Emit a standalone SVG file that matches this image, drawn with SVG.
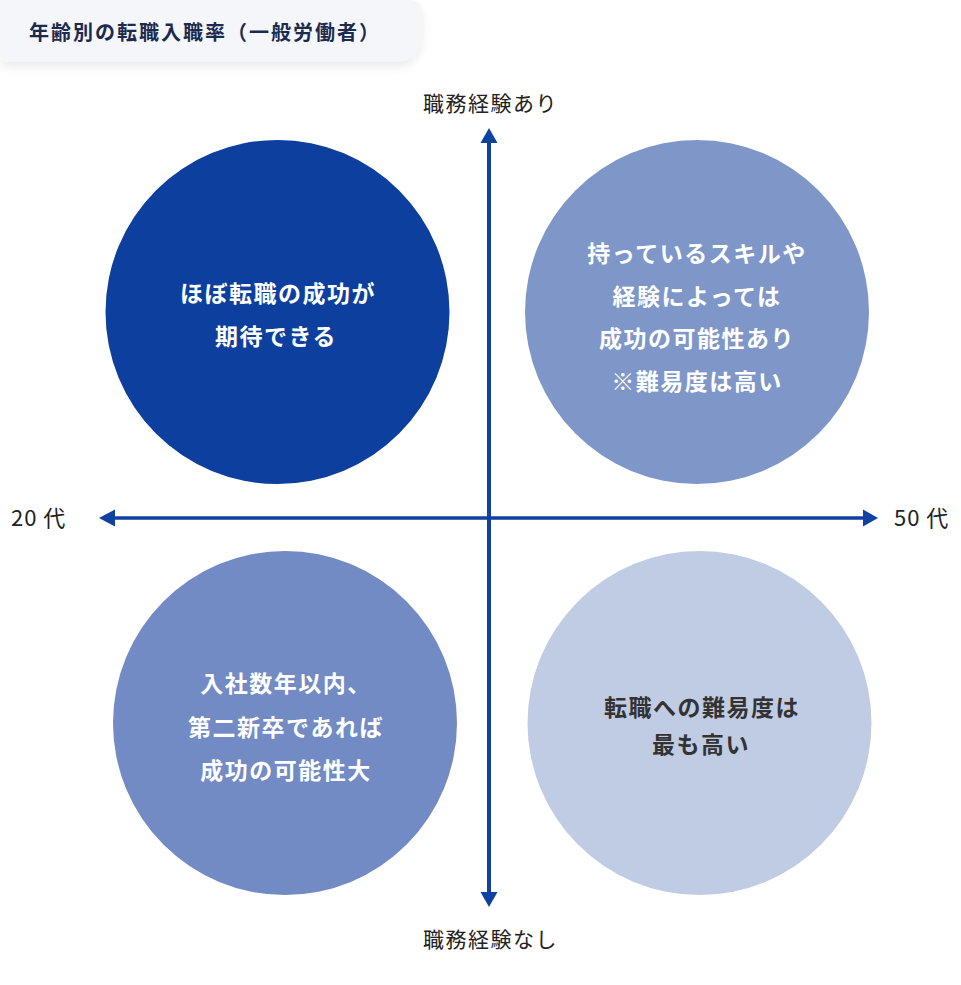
<svg xmlns="http://www.w3.org/2000/svg" width="961" height="985" viewBox="0 0 961 985">
<defs>
<filter id="sh" x="-10%" y="-30%" width="130%" height="180%">
<feDropShadow dx="0" dy="5" stdDeviation="5" flood-color="#000" flood-opacity="0.08"/>
</filter>
<style>
.jp{font-family:"Noto Sans CJK JP","Noto Sans",sans-serif;}
.ct{font-size:23px;font-weight:700;text-anchor:middle;letter-spacing:1.5px;}
.w{fill:#ffffff;}
.d{fill:#333333;}
.ax{font-size:21px;fill:#222222;letter-spacing:1.5px;}
.axl{stroke:#0f41a0;stroke-width:4;fill:none;}
.ah{fill:#0f41a0;}
</style>
</defs>
<rect width="961" height="985" fill="#ffffff"/>
<g id="title">
<path d="M0,0 H410 Q422,0 422,12 V32 Q422,62 392,62 H8 Q0,62 0,54 Z" fill="#f5f6f9" filter="url(#sh)"/>
<text class="jp" x="29" y="39.5" font-size="20" font-weight="700" fill="#1b2a4e" letter-spacing="2">年齢別の転職入職率（一般労働者）</text>
</g>
<g id="node-tl">
<circle cx="277.5" cy="312" r="172" fill="#0d3f9e"/>
<text class="jp ct w" x="278" y="302">ほぼ転職の成功が</text>
<text class="jp ct w" x="276" y="344.5">期待できる</text>
</g>
<g id="node-tr">
<circle cx="697" cy="312" r="172" fill="#7f97c8"/>
<text class="jp ct w" x="697" y="261.5">持っているスキルや</text>
<text class="jp ct w" x="697" y="304.5">経験によっては</text>
<text class="jp ct w" x="697" y="346.5">成功の可能性あり</text>
<text class="jp ct w" x="697" y="389.5">※難易度は高い</text>
</g>
<g id="node-bl">
<circle cx="285" cy="723" r="172" fill="#738bc4"/>
<text class="jp ct w" x="286" y="691.5">入社数年以内、</text>
<text class="jp ct w" x="286" y="735.5">第二新卒であれば</text>
<text class="jp ct w" x="286" y="778.5">成功の可能性大</text>
</g>
<g id="node-br">
<circle cx="699.5" cy="723" r="172" fill="#c0cce4"/>
<text class="jp ct d" x="702" y="715.5">転職への難易度は</text>
<text class="jp ct d" x="701" y="752.5">最も高い</text>
</g>
<g id="connectors">
<line class="axl" x1="489" y1="143" x2="489" y2="892"/>
<path class="ah" d="M489,128 L497.5,143 L480.5,143 Z"/>
<path class="ah" d="M489,907 L497.5,892 L480.5,892 Z"/>
<line class="axl" x1="115" y1="518" x2="863" y2="518" style="stroke-width:3.5"/>
<path class="ah" d="M99,518 L115,509.5 L115,526.5 Z"/>
<path class="ah" d="M878,518 L863,509.5 L863,526.5 Z"/>
</g>
<g id="labels">
<text class="jp ax" x="490.5" y="111" text-anchor="middle">職務経験あり</text>
<text class="jp ax" x="490.5" y="947" text-anchor="middle">職務経験なし</text>
<text class="jp" x="11" y="525.5" font-size="22" fill="#222222" letter-spacing="1">20 代</text>
<text class="jp" x="894" y="525.5" font-size="22" fill="#222222" letter-spacing="1">50 代</text>
</g>
</svg>
